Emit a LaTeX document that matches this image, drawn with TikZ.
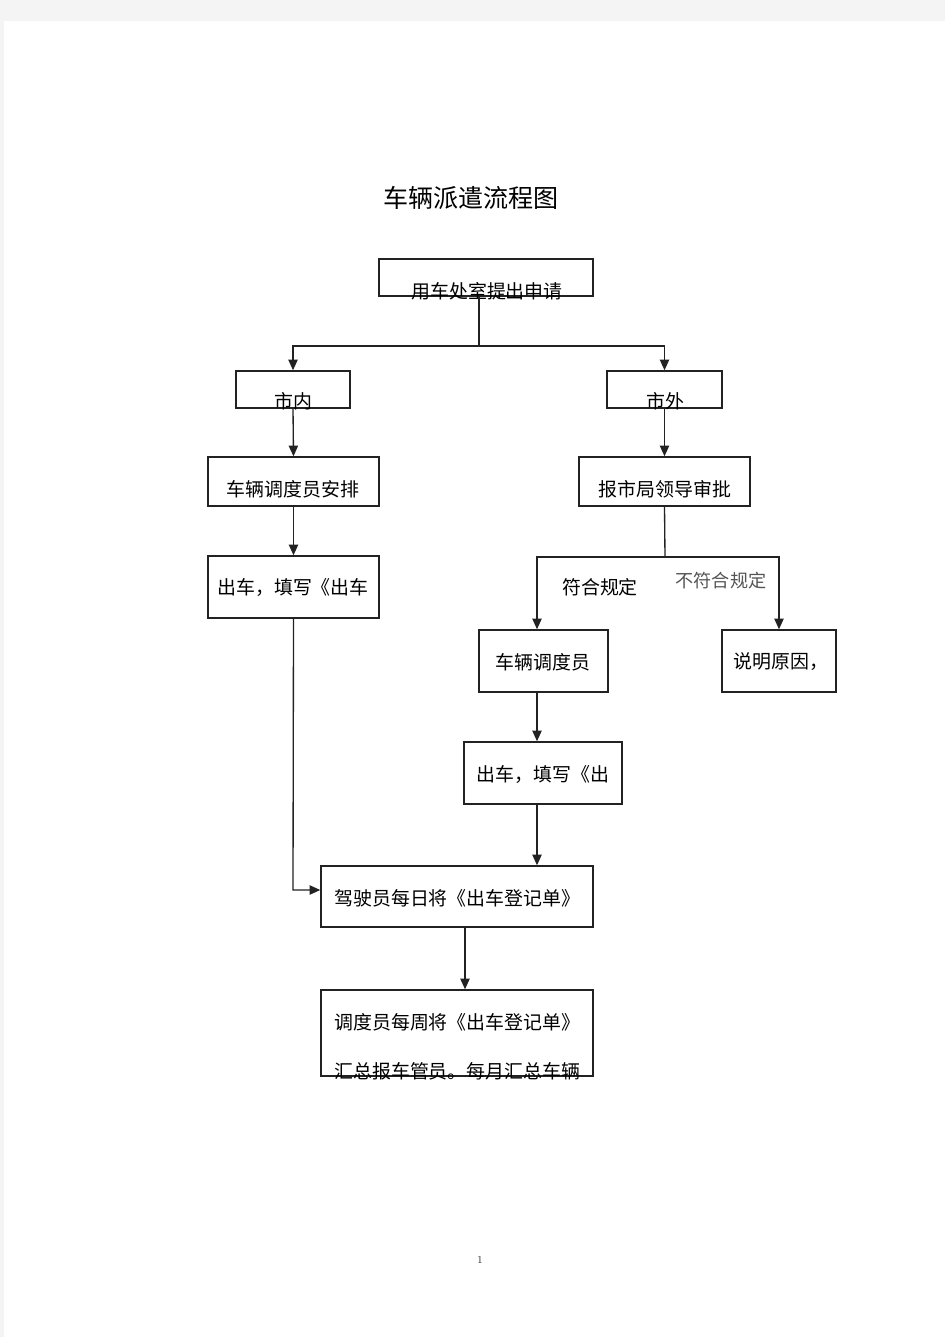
\documentclass[tikz,border=0pt]{standalone}
\usepackage{fontspec}
\newfontfamily\cjk{Noto Sans CJK SC}
\usetikzlibrary{arrows.meta}
\definecolor{pagegrey}{HTML}{F4F4F4}
\definecolor{linec}{HTML}{222222}
\definecolor{soft}{HTML}{555555}
\tikzset{
  box/.style={draw=linec, line width=1.1pt, fill=none, inner sep=0pt},
  conn/.style={draw=linec, line width=1pt},
  arr/.style={conn, -{Triangle[length=8pt,width=7pt]}},
  txt/.style={font=\cjk\fontsize{14.2pt}{17pt}\selectfont, inner sep=0pt, text=black},
}
\newcommand{\boxnode}[5]{\node[box, minimum width={(#4-#2)*0.75pt}, minimum height={(#5-#3)*0.75pt}] (#1) at ({(#2+#4)/2},{(#3+#5)/2}) {};}
\begin{document}
\begin{tikzpicture}[x=0.75pt,y=-0.75pt]
\useasboundingbox (0,0) rectangle (945,1337);
\fill[pagegrey] (0,0) rectangle (945,1337);
\fill[white] (4,21) rectangle (945,1337);

% title
\node[font=\cjk\fontsize{18.8pt}{22pt}\selectfont, inner sep=0pt] (title) at (471,198) {车辆派遣流程图};

% boxes
\boxnode{b1}{379}{259}{593}{296}
\boxnode{nei}{236}{371}{350}{408}
\boxnode{wai}{607}{371}{722}{408}
\boxnode{ap}{208}{457}{379}{506}
\boxnode{sp}{579}{457}{750}{506}
\boxnode{chu1}{208}{556}{379}{618}
\boxnode{td}{479}{630}{608}{692}
\boxnode{sm}{722}{630}{836}{692}
\boxnode{chu2}{464}{742}{622}{804}
\boxnode{jia}{321}{866}{593}{927}
\boxnode{zong}{321}{990}{593}{1076}

% texts
\node[txt] (t1) at (487,291) {用车处室提出申请};
\node[txt] (tnei) at (293,401) {市内};
\node[txt] (twai) at (665,401) {市外};
\node[txt] (tap) at (293,489) {车辆调度员安排};
\node[txt] (tsp) at (665,489) {报市局领导审批};
\node[txt] (tchu1) at (293,588) {出车，填写《出车};
\node[txt] (tfh) at (600,587) {符合规定};
\node[txt, text=soft, font=\cjk\fontsize{13.6pt}{16pt}\selectfont] (tbfh) at (721,581) {不符合规定};
\node[txt] (ttd) at (543,662) {车辆调度员};
\node[txt] (tsm) at (781,662) {说明原因，};
\node[txt] (tchu2) at (543,774) {出车，填写《出};
\node[txt, anchor=west] (tjia) at (334,898) {驾驶员每日将《出车登记单》};
\node[txt, anchor=west] (tz1) at (334,1022) {调度员每周将《出车登记单》};
\node[txt, anchor=west] (tz2) at (334,1071) {汇总报车管员。每月汇总车辆};

% page number
\node[font=\fontsize{8pt}{9pt}\selectfont, inner sep=0pt, text=black!80] (pg) at (480,1260) {1};

% connectors
\coordinate (s1) at (479,346);
\draw[conn] (s1 |- b1.south) -- (s1);
\draw[arr] (s1) -| (nei.north);
\draw[arr] (s1) -| (wai.north);
\draw[arr] (nei.south) -- (ap.north);
\draw[arr] (wai.south) -- (sp.north);
\draw[arr] (ap.south) -- (chu1.north);

\coordinate (s2) at (665,557);
\coordinate (cL) at (537,557);
\coordinate (cR) at (779,557);
\draw[conn] (sp.south) -- (s2);
\draw[arr] (s2) -- (cL) -- (cL |- td.north);
\draw[arr] (s2) -- (cR) -- (cR |- sm.north);
\draw[arr] (cL |- td.south) -- (cL |- chu2.north);
\draw[arr] (cL |- chu2.south) -- (cL |- jia.north);

\coordinate (j) at (293,890);
\draw[arr] (chu1.south) -- (j) -- (j -| jia.west);

\coordinate (m) at (465,927);
\draw[arr] (m |- jia.south) -- (m |- zong.north);
\end{tikzpicture}
\end{document}
